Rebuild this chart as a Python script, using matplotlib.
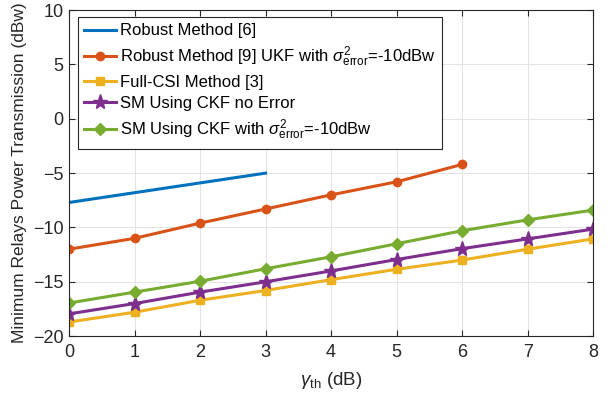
import numpy as np
import matplotlib
matplotlib.use("Agg")
import matplotlib.pyplot as plt

plt.rcParams['font.family'] = ['Liberation Sans', 'DejaVu Sans']
plt.rcParams['mathtext.fontset'] = 'custom'
plt.rcParams['mathtext.rm'] = 'Liberation Sans'
plt.rcParams['mathtext.it'] = 'Liberation Sans:italic'

# Data
gamma_robust6 = [0, 1, 2, 3]
robust6 = [-7.7, -6.8, -5.9, -5.0]

gamma_robust9 = [0, 1, 2, 3, 4, 5, 6]
robust9 = [-12.0, -11.0, -9.6, -8.3, -7.0, -5.8, -4.2]

gamma_all = [0, 1, 2, 3, 4, 5, 6, 7, 8]
full_csi = [-18.7, -17.8, -16.7, -15.8, -14.8, -13.85, -13.0, -12.0, -11.05]
ckf_no_error = [-17.95, -17.0, -15.95, -15.0, -14.0, -12.95, -11.95, -11.05, -10.15]
ckf_error = [-16.95, -15.95, -14.95, -13.8, -12.7, -11.5, -10.3, -9.3, -8.4]

labels = [
    'Robust Method [6]',
    r'Robust Method [9] UKF with $\sigma^2_{\mathrm{error}}$=-10dBw',
    'Full-CSI Method [3]',
    'SM Using CKF no Error',
    r'SM Using CKF with $\sigma^2_{\mathrm{error}}$=-10dBw',
]

fig = plt.figure(figsize=(6.08, 4.05), dpi=100)
ax = fig.add_axes([0.1135, 0.170, 0.862, 0.805])

ax.plot(gamma_robust6, robust6, '-', color='#0072BD', lw=2.2, label=labels[0])
ax.plot(gamma_robust9, robust9, 'o-', color='#D95319', lw=2.2, ms=6, label=labels[1])
ax.plot(gamma_all, full_csi, 's-', color='#EDB120', lw=2.2, ms=6, label=labels[2])
ax.plot(gamma_all, ckf_no_error, '*-', color='#7E2F8E', lw=2.2, ms=11, label=labels[3])
ax.plot(gamma_all, ckf_error, 'D-', color='#77AC30', lw=2.2, ms=6, label=labels[4])

ax.set_xlim(0, 8)
ax.set_ylim(-20, 10)
ax.set_xticks(range(0, 9))
ax.set_yticks(range(-20, 11, 5))
ax.grid(True, color='#e3e3e3', lw=0.7)
ax.set_axisbelow(True)
ax.tick_params(direction='in', top=True, right=True, labelsize=13,
               colors='#262626', length=4)
ax.tick_params(axis='x', pad=6)
ax.tick_params(axis='y', pad=4)
for s in ax.spines.values():
    s.set_color('#262626')
    s.set_linewidth(0.8)

ax.set_xlabel(r'$\gamma_{\mathrm{th}}$ (dB)', fontsize=13.5, color='#262626', labelpad=6)
ax.set_ylabel('Minimum Relays Power Transmission (dBw)', fontsize=12.5, color='#262626')

leg = ax.legend(loc='upper left', bbox_to_anchor=(0.01, 0.99), fontsize=12,
                frameon=True, fancybox=False, framealpha=1, edgecolor='#262626',
                handlelength=1.9, handletextpad=0.25, borderpad=0.4, labelspacing=0.37,
                borderaxespad=0.2)
leg.get_frame().set_linewidth(0.8)

fig.savefig('out.png', dpi=100)
